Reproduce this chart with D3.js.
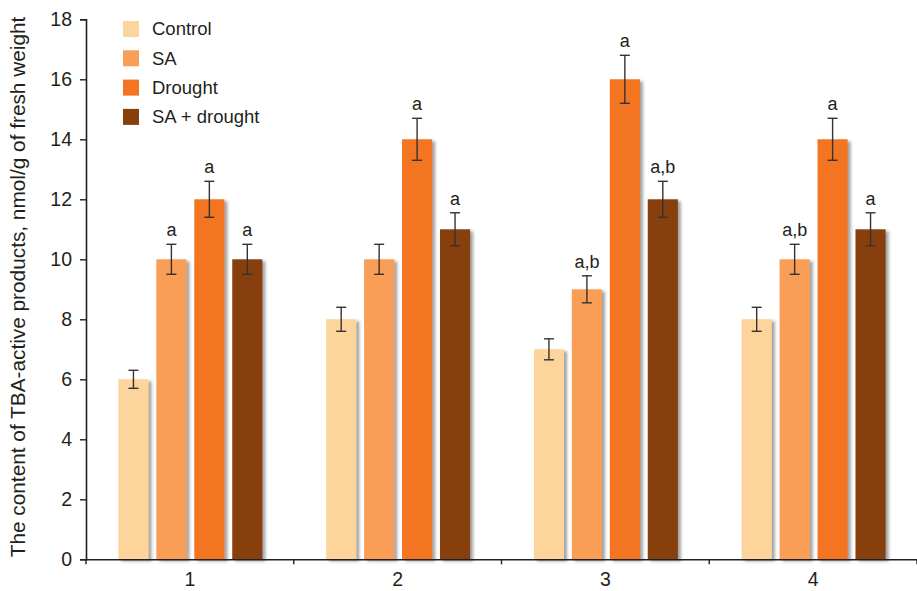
<!DOCTYPE html>
<html><head><meta charset="utf-8">
<script src="https://cdn.jsdelivr.net/npm/d3@7"></script>
<style>body{margin:0;background:#fff}svg{display:block;font-family:"Liberation Sans",Arial,sans-serif}</style>
</head><body><svg id="c" width="917" height="591"></svg>
<script>
const categories = ["1","2","3","4"];
const seriesNames = ["Control","SA","Drought","SA + drought"];
const colors = ["#FDD49C","#F89E56","#F37421","#873F0B"];
const control = [6,8,7,8];
const sa = [10,10,9,10];
const drought = [12,14,16,14];
const saDrought = [10,11,12,11];
const errControl = [0.3,0.4,0.35,0.4];
const errSa = [0.5,0.5,0.45,0.5];
const errDrought = [0.6,0.7,0.8,0.7];
const errSaDrought = [0.5,0.55,0.6,0.55];
const lblControl = ["","","",""];
const lblSa = ["a","","a,b","a,b"];
const lblDrought = ["a","a","a","a"];
const lblSaDrought = ["a","a","a,b","a"];
const yTicks = [0,2,4,6,8,10,12,14,16,18];
const yTitle = "The content of TBA-active products, nmol/g of fresh weight";

const values = [control, sa, drought, saDrought];
const errs = [errControl, errSa, errDrought, errSaDrought];
const lbls = [lblControl, lblSa, lblDrought, lblSaDrought];

const svg = d3.select("#c");
const mLeft = 86, mRight = 917, mTop = 19.3, mBottom = 559.3;
const x = d3.scaleBand().domain(categories).range([mLeft, mRight]);
const xs = d3.scaleBand().domain(seriesNames).range([-71.5, 72.5]).paddingInner(0.206).paddingOuter(0);
const y = d3.scaleLinear().domain([0,18]).range([mBottom, mTop]);

const defs = svg.append("defs");
const f = defs.append("filter").attr("id","sh").attr("x","-20%").attr("y","-5%").attr("width","150%").attr("height","120%");
f.append("feDropShadow").attr("dx",3).attr("dy",2).attr("stdDeviation",1.5).attr("flood-color","#555").attr("flood-opacity",0.55);

const data = [];
categories.forEach((c,i)=>seriesNames.forEach((s,j)=>data.push({c,s,j,v:values[j][i],e:errs[j][i],l:lbls[j][i]})));

const g = svg.append("g");
g.selectAll("rect.bar").data(data).join("rect").attr("class","bar")
  .attr("x", d=>x(d.c)+x.bandwidth()/2+xs(d.s))
  .attr("width", xs.bandwidth())
  .attr("y", d=>y(d.v)).attr("height", d=>y(0)-y(d.v))
  .attr("fill", d=>colors[d.j]).attr("filter","url(#sh)");

const eb = g.selectAll("g.eb").data(data).join("g").attr("class","eb")
  .attr("transform", d=>`translate(${x(d.c)+x.bandwidth()/2+xs(d.s)+xs.bandwidth()/2},0)`)
  .attr("stroke","#333").attr("stroke-width",1.4);
eb.append("line").attr("y1",d=>y(d.v+d.e)).attr("y2",d=>y(d.v-d.e));
eb.append("line").attr("x1",-5).attr("x2",5).attr("y1",d=>y(d.v+d.e)).attr("y2",d=>y(d.v+d.e));
eb.append("line").attr("x1",-5).attr("x2",5).attr("y1",d=>y(d.v-d.e)).attr("y2",d=>y(d.v-d.e));

g.selectAll("text.lbl").data(data.filter(d=>d.l)).join("text").attr("class","lbl")
  .attr("x", d=>x(d.c)+x.bandwidth()/2+xs(d.s)+xs.bandwidth()/2)
  .attr("y", d=>y(d.v+d.e)-8)
  .attr("text-anchor","middle").attr("font-size",18).attr("fill","#231f20").text(d=>d.l);

// axes
const ya = svg.append("g").attr("transform",`translate(${mLeft},0)`)
  .call(d3.axisLeft(y).tickValues(yTicks).tickSize(6).tickPadding(8));
ya.select(".domain").attr("stroke","#231f20").attr("stroke-width",1.6);
ya.selectAll(".tick line").attr("stroke","#231f20").attr("stroke-width",1.4);
ya.selectAll("text").attr("font-size",19.5).attr("fill","#231f20").attr("font-family","Liberation Sans, Arial, sans-serif");

const xa = svg.append("g").attr("transform",`translate(0,${mBottom})`)
  .call(d3.axisBottom(x).tickSize(0).tickPadding(13));
xa.select(".domain").attr("stroke","#231f20").attr("stroke-width",1.6);
xa.selectAll("text").attr("font-size",19.5).attr("fill","#231f20").attr("font-family","Liberation Sans, Arial, sans-serif");
// boundary ticks
const bounds = categories.map(c=>x(c)).concat([mRight]);
svg.append("g").selectAll("line").data(bounds).join("line")
  .attr("x1",d=>d).attr("x2",d=>d).attr("y1",mBottom).attr("y2",mBottom+5)
  .attr("stroke","#231f20").attr("stroke-width",1.4);

svg.append("text").attr("transform",`translate(25,287) rotate(-90)`)
  .attr("text-anchor","middle").attr("font-size",20.8).attr("fill","#231f20").text(yTitle);

// legend
const lg = svg.append("g").selectAll("g").data(seriesNames).join("g")
  .attr("transform",(d,i)=>`translate(123,${21+i*29.3})`);
lg.append("rect").attr("width",16).attr("height",16).attr("fill",(d,i)=>colors[i]);
lg.append("text").attr("x",29).attr("y",8).attr("dy","0.35em").attr("font-size",18.5).attr("fill","#231f20").text(d=>d);
</script></body></html>
